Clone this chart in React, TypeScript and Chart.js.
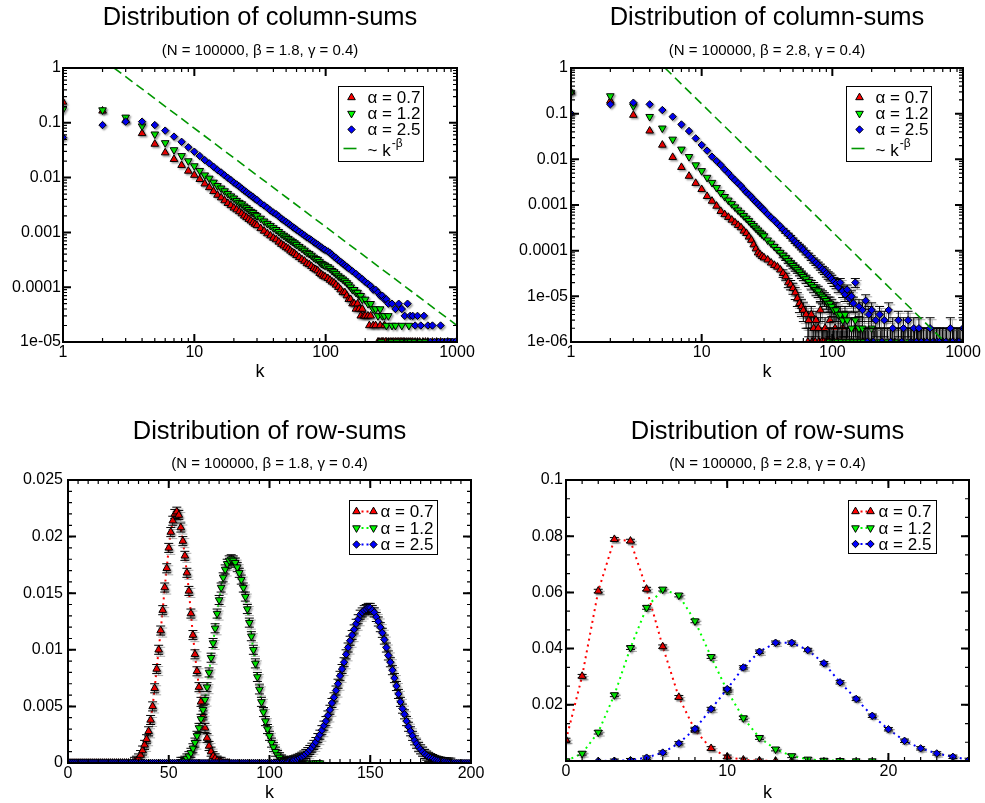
import React, { useEffect, useRef } from 'react';
import { Chart, registerables } from 'chart.js';

Chart.register(...registerables);

const FONT_FAMILY = '"Liberation Sans", Arial, Helvetica, sans-serif';
Chart.defaults.font.family = FONT_FAMILY;
Chart.defaults.color = '#000';

// ---------------- text ----------------
const SERIES_LABELS = ['α = 0.7', 'α = 1.2', 'α = 2.5'];
const FIT_LABEL = '~ k';
const FIT_SUP = '-β';
const TITLE_COLUMN = 'Distribution of column-sums';
const TITLE_ROW = 'Distribution of row-sums';
const SUB_18 = '(N = 100000, β = 1.8, γ = 0.4)';
const SUB_28 = '(N = 100000, β = 2.8, γ = 0.4)';
const X_LABEL = 'k';

// ---------------- ticks ----------------
const LOG_X_TICKS = [1, 10, 100, 1000];
const LOG_X_LABELS = ['1', '10', '100', '1000'];
const TL_Y_TICKS = [1e-5, 1e-4, 1e-3, 1e-2, 0.1, 1];
const TL_Y_LABELS = ['1e-05', '0.0001', '0.001', '0.01', '0.1', '1'];
const TR_Y_TICKS = [1e-6, 1e-5, 1e-4, 1e-3, 1e-2, 0.1, 1];
const TR_Y_LABELS = ['1e-06', '1e-05', '0.0001', '0.001', '0.01', '0.1', '1'];
const BL_X_TICKS = [0, 50, 100, 150, 200];
const BL_X_LABELS = ['0', '50', '100', '150', '200'];
const BL_Y_TICKS = [0, 0.005, 0.01, 0.015, 0.02, 0.025];
const BL_Y_LABELS = ['0', '0.005', '0.01', '0.015', '0.02', '0.025'];
const BR_X_TICKS = [0, 10, 20];
const BR_X_LABELS = ['0', '10', '20'];
const BR_Y_TICKS = [0, 0.02, 0.04, 0.06, 0.08, 0.1];
const BR_Y_LABELS = ['', '0.02', '0.04', '0.06', '0.08', '0.1'];

// ---------------- data: top-left (column sums, beta = 1.8) ----------------
const TL_K = [1,2,3,4,5,6,7,8,9,10,11,12,13,14,15,16,17,18,19,20,21,22,23,24,25,26,27,28,29,30,32,34,36,38,40,42,44,46,48,50,52,54,56,58,60,63,66,69,72,75,78,81,84,87,90,93,96,99];
const TL_RED = [0.24,0.165,0.11,0.064,0.041,0.0285,0.0216,0.0168,0.0132,0.0111,0.0093,0.0077,0.0066,0.0056,0.0048,0.0043,0.0038,0.0034,0.0031,0.0028,0.0026,0.0024,0.0022,0.0020,0.00187,0.00174,0.00163,0.00151,0.00142,0.00134,0.00118,0.00106,0.00095,0.00087,0.00079,0.00074,0.00067,0.00061,0.00057,0.00053,0.00050,0.00046,0.00043,0.00041,0.00038,0.00035,0.00032,0.00030,0.00027,0.00026,0.00024,0.00022,0.00021,0.00020,0.00018,0.00017,0.00016,0.000155];
const TL_GREEN = [0.176,0.171,0.126,0.087,0.062,0.043,0.032,0.025,0.0201,0.0163,0.0134,0.0111,0.0097,0.0082,0.0071,0.0064,0.0057,0.0051,0.0046,0.0042,0.0038,0.0035,0.0033,0.0030,0.0028,0.0026,0.0024,0.0023,0.0021,0.0020,0.0018,0.0016,0.00145,0.00133,0.00121,0.00112,0.00103,0.00094,0.00088,0.00082,0.00077,0.00072,0.00068,0.00064,0.00060,0.00055,0.00051,0.00047,0.00043,0.00041,0.00038,0.00035,0.00033,0.00032,0.00029,0.00027,0.00026,0.00025];
const TL_BLUE = [0.054,0.091,0.105,0.105,0.091,0.072,0.056,0.045,0.0357,0.0297,0.0248,0.0209,0.0182,0.0158,0.0138,0.0124,0.0110,0.0099,0.0090,0.0081,0.0075,0.0069,0.0063,0.0058,0.0054,0.0050,0.0047,0.0044,0.0041,0.0039,0.0034,0.0031,0.0028,0.0025,0.0023,0.00215,0.00196,0.00178,0.00166,0.00155,0.00145,0.00135,0.00126,0.00119,0.00112,0.00103,0.00095,0.00088,0.00081,0.00077,0.00072,0.00067,0.00063,0.00060,0.00056,0.00053,0.00050,0.00048];
const TL_RED_TAIL_K = [104,108,112,116,120,125,130,135,140,145,150,155,160,165,170,175,180,185,190,195,200,210,215,220,230,240,250,260,270,280,290,300,320,340,360,380,400,430,460,500,550,600,700];
const TL_RED_TAIL_P = [1.45e-4,1.35e-4,1.25e-4,1.2e-4,1.1e-4,1.0e-4,9e-5,8e-5,8e-5,7e-5,6e-5,6e-5,5e-5,5e-5,4e-5,5e-5,4e-5,3e-5,4e-5,3e-5,3e-5,3e-5,2e-5,3e-5,2e-5,2e-5,1e-5,2e-5,1e-5,2e-5,1e-5,1e-5,1e-5,1e-5,1e-5,1e-5,1e-5,1e-5,1e-5,1e-5,1e-5,1e-5,1e-5];
const TL_GREEN_TAIL_K = [104,108,112,116,120,125,130,135,140,145,150,155,160,165,170,175,180,185,190,200,210,220,230,240,250,260,270,280,290,300,320,340,360,380,400,430,460,500,550,600,700,800,900];
const TL_GREEN_TAIL_P = [2.35e-4,2.2e-4,2.0e-4,1.9e-4,1.75e-4,1.6e-4,1.5e-4,1.4e-4,1.3e-4,1.2e-4,1.1e-4,1.0e-4,9e-5,9e-5,8e-5,8e-5,7e-5,7e-5,6e-5,6e-5,5e-5,5e-5,4e-5,4e-5,3e-5,4e-5,3e-5,3e-5,2e-5,3e-5,2e-5,2e-5,1e-5,2e-5,1e-5,2e-5,1e-5,1e-5,1e-5,1e-5,1e-5,1e-5,1e-5];
const TL_BLUE_TAIL_K = [104,108,112,116,120,125,130,135,140,145,150,160,170,180,190,200,210,220,230,240,250,260,270,280,290,300,320,340,360,380,400,420,440,460,480,500,530,560,600,650,700,750,800,850,900,950,1000];
const TL_BLUE_TAIL_P = [4.5e-4,4.2e-4,3.9e-4,3.6e-4,3.4e-4,3.1e-4,2.9e-4,2.7e-4,2.5e-4,2.35e-4,2.2e-4,1.95e-4,1.75e-4,1.55e-4,1.4e-4,1.25e-4,1.15e-4,1.05e-4,9e-5,9e-5,8e-5,7e-5,7e-5,6e-5,6e-5,5e-5,5e-5,4e-5,5e-5,4e-5,3e-5,5e-5,3e-5,3e-5,2e-5,3e-5,2e-5,3e-5,2e-5,2e-5,1e-5,2e-5,1e-5,1e-5,1e-5,1e-5,1e-5];
// extra points sitting on the 1e-5 floor (one count)
const TL_FLOOR_P = 1e-5;
const TL_RED_FLOOR_K = [255,265,275,285,310,330,350,370,390,415,445,480,520,575,650,750,850];
const TL_GREEN_FLOOR_K = [265,310,350,390,415,445,480,520,575,650,750,850,950];
const TL_BLUE_FLOOR_K = [625,675,725,775,825,875,925,975];
const TL_FIT_K = [2.45, 1000];
const TL_FIT_P = [1, 2e-5];

// ---------------- data: top-right (column sums, beta = 2.8) ----------------
const TR_K = [1,2,3,4,5,6,7,8,9,10,11,12,13,14,15,16,17,18,19,20,21,22,23,24,25,26,27,28,29,30,32,34,36,38,40];
const TR_RED = [0.30,0.19,0.093,0.042,0.0206,0.0111,0.0067,0.0043,0.0030,0.0022,0.00155,0.00122,0.00095,0.00073,0.00062,0.00054,0.00047,0.00041,0.00036,0.00032,0.00027,0.00024,0.00020,0.00017,0.000135,0.000110,0.000090,0.000082,0.000075,0.000070,0.000063,0.000054,0.000048,0.000044,0.000038];
const TR_GREEN = [0.29,0.244,0.147,0.086,0.048,0.0274,0.0166,0.0114,0.0075,0.0056,0.0040,0.0031,0.0024,0.00186,0.00152,0.00127,0.00106,0.00090,0.00077,0.00067,0.00058,0.00051,0.00045,0.00039,0.00035,0.00031,0.00028,0.00025,0.00023,0.00021,0.00017,0.000145,0.000123,0.000105,0.000091];
const TR_BLUE = [0.10,0.16,0.174,0.16,0.12,0.086,0.058,0.0417,0.0288,0.0206,0.0155,0.0114,0.0092,0.0075,0.0060,0.0050,0.0041,0.0035,0.0030,0.0026,0.0022,0.0019,0.0017,0.0015,0.0013,0.00117,0.00105,0.00094,0.00085,0.00077,0.00063,0.00053,0.00046,0.00039,0.00034];
const TR_RED_TAIL_K = [42,44,46,48,50,52,54,56,58,60,63,66,69,72,75,78,81,84,88,92,96,100,105,110,115,120,125,130,140,150,160,170,180,200,220,250,280,320,360,400,450,500,560,630,700,800,900,1000];
const TR_RED_TAIL_P = [3.2e-5,2.7e-5,2.0e-5,1.8e-5,1.5e-5,1.2e-5,9e-6,7e-6,6e-6,5e-6,4e-6,3e-6,4e-6,2e-6,3e-6,2e-6,5e-6,1e-6,2e-6,1e-6,3e-6,1e-6,2e-6,1e-6,1e-6,2e-6,1e-6,1e-6,1e-6,2e-6,1e-6,1e-6,1e-6,1e-6,1e-6,1e-6,1e-6,1e-6,1e-6,1e-6,1e-6,1e-6,1e-6,1e-6,1e-6,1e-6,1e-6,1e-6];
const TR_RED_TAIL_E = [6e-6,5e-6,4.5e-6,4.2e-6,3.9e-6,3.5e-6,3e-6,2.6e-6,2.4e-6,2.2e-6,2e-6,1.7e-6,2e-6,1.4e-6,1.7e-6,1.4e-6,2.2e-6,1e-6,1.4e-6,1e-6,1.7e-6,1e-6,1.4e-6,1e-6,1e-6,1.4e-6,1e-6,1e-6,1e-6,1.4e-6,1e-6,1e-6,1e-6,1e-6,1e-6,1e-6,1e-6,1e-6,1e-6,1e-6,1e-6,1e-6,1e-6,1e-6,1e-6,1e-6,1e-6,1e-6];
const TR_GREEN_TAIL_K = [42,44,46,48,50,52,54,56,58,60,63,66,69,72,75,78,81,84,87,90,93,96,99,103,107,111,115,120,125,130,140,150,160,170,180,200,220,250,280,320,360,400,450,500,560,630,700,800,900,1000];
const TR_GREEN_TAIL_P = [7.9e-5,6.9e-5,6.0e-5,5.3e-5,4.7e-5,4.2e-5,3.8e-5,3.4e-5,3.0e-5,2.7e-5,2.4e-5,2.1e-5,1.8e-5,1.6e-5,1.4e-5,1.3e-5,1.1e-5,1.0e-5,9e-6,8e-6,7e-6,7e-6,6e-6,5e-6,5e-6,4e-6,4e-6,3e-6,4e-6,3e-6,2e-6,3e-6,2e-6,2e-6,1e-6,2e-6,1e-6,1e-6,1e-6,1e-6,1e-6,1e-6,1e-6,1e-6,1e-6,1e-6,1e-6,1e-6,1e-6,1e-6];
const TR_GREEN_TAIL_E = [9e-6,8e-6,8e-6,7e-6,7e-6,6.5e-6,6e-6,6e-6,5.5e-6,5e-6,5e-6,4.6e-6,4.2e-6,4e-6,3.7e-6,3.6e-6,3.3e-6,3.2e-6,3e-6,2.8e-6,2.6e-6,2.6e-6,2.4e-6,2.2e-6,2.2e-6,2e-6,2e-6,1.7e-6,2e-6,1.7e-6,1.4e-6,1.7e-6,1.4e-6,1.4e-6,1e-6,1.4e-6,1e-6,1e-6,1e-6,1e-6,1e-6,1e-6,1e-6,1e-6,1e-6,1e-6,1e-6,1e-6,1e-6,1e-6];
const TR_BLUE_TAIL_K = [42,44,46,48,50,52,54,56,58,60,63,66,69,72,75,78,81,84,87,90,93,96,99,103,107,111,115,120,125,130,135,140,145,150,160,170,180,190,200,215,230,250,270,290,320,350,380,420,460,500,560,630,700,800,900,1000];
const TR_BLUE_TAIL_P = [2.9e-4,2.55e-4,2.25e-4,2.0e-4,1.75e-4,1.55e-4,1.4e-4,1.27e-4,1.15e-4,1.04e-4,9.0e-5,7.9e-5,6.9e-5,6.1e-5,5.5e-5,4.9e-5,4.4e-5,3.9e-5,3.6e-5,3.2e-5,2.9e-5,2.7e-5,2.4e-5,2.1e-5,1.9e-5,1.6e-5,2.0e-5,1.3e-5,1.1e-5,1.4e-5,9e-6,1.0e-5,7e-6,2.0e-5,6e-6,5e-6,8e-6,4e-6,5e-6,3e-6,4e-6,3e-6,5e-6,2e-6,3e-6,2e-6,3e-6,2e-6,2e-6,1e-6,2e-6,1e-6,1e-6,2e-6,1e-6,2e-6];
const TR_BLUE_TAIL_E = [1.7e-5,1.6e-5,1.5e-5,1.4e-5,1.3e-5,1.2e-5,1.2e-5,1.1e-5,1.1e-5,1.0e-5,9.5e-6,8.9e-6,8.3e-6,7.8e-6,7.4e-6,7e-6,6.6e-6,6.2e-6,6e-6,5.7e-6,5.4e-6,5.2e-6,4.9e-6,4.6e-6,4.4e-6,4e-6,4.5e-6,3.6e-6,3.3e-6,3.7e-6,3e-6,3.2e-6,2.6e-6,4.5e-6,2.4e-6,2.2e-6,2.8e-6,2e-6,2.2e-6,1.7e-6,2e-6,1.7e-6,2.2e-6,1.4e-6,1.7e-6,1.4e-6,1.7e-6,1.4e-6,1.4e-6,1e-6,1.4e-6,1e-6,1e-6,1.4e-6,1e-6,1.4e-6];
// extra points sitting on the 1e-6 floor (one count), with their error
const TR_FLOOR_P = 1e-6;
const TR_FLOOR_E = 1e-6;
const TR_RED_FLOOR_K = [65,70,74,79,83,86,90,94,98,103,108,113,118,123,128,135,145,155,165,175,190,210,235,265,300,340,380,425,475,530,600,665,750,850,950];
const TR_GREEN_FLOOR_K = [95,102,110,118,128,135,145,155,165,175,190,210,235,265,300,340,380,425,475,530,600,665,750,850,950];
const TR_BLUE_FLOOR_K = [185,205,240,280,340,400,440,480,530,590,660,740,830,930];
const TR_FIT_K = [5.24, 728];
const TR_FIT_P = [1, 1e-6];

// ---------------- data: bottom-left (row sums, beta = 1.8), k = 0..kMax, zero outside run ----------------
const BL_RED_KMAX = 80;
const BL_RED_K0 = 33;
const BL_RED_P = [0.0001,0.0002,0.0004,0.0007,0.0011,0.0016,0.0021,0.0028,0.0038,0.0050,0.0066,0.0083,0.0100,0.0117,0.0135,0.0155,0.0172,0.0190,0.0204,0.0214,0.0220,0.0222,0.0219,0.0208,0.0196,0.0183,0.0168,0.0152,0.0132,0.0113,0.0096,0.0081,0.0067,0.0054,0.0042,0.0031,0.0022,0.0015,0.0010,0.0006,0.0004,0.0002,0.0001,0.0001];
const BL_GREEN_KMAX = 125;
const BL_GREEN_K0 = 56;
const BL_GREEN_P = [0.0001,0.0001,0.0002,0.0004,0.0006,0.0009,0.0013,0.0018,0.0024,0.0031,0.0039,0.0047,0.0056,0.0067,0.0080,0.0093,0.0106,0.0119,0.0132,0.0144,0.0155,0.0164,0.0171,0.0176,0.0179,0.0180,0.0179,0.0177,0.0173,0.0168,0.0162,0.0155,0.0147,0.0136,0.0124,0.0112,0.0100,0.0088,0.0076,0.0065,0.0054,0.0045,0.0037,0.0030,0.0024,0.0018,0.0014,0.0010,0.0007,0.0005,0.0003,0.0002,0.0001];
const BL_BLUE_KMAX = 200;
const BL_BLUE_K0 = 109;
const BL_BLUE_P = [0.0001,0.00015,0.0002,0.00024,0.0003,0.00037,0.00045,0.00055,0.00066,0.0008,0.00096,0.00115,0.00135,0.0016,0.00185,0.0022,0.0025,0.0029,0.0033,0.0037,0.0042,0.0047,0.0053,0.0058,0.0064,0.0070,0.0077,0.0083,0.0089,0.0096,0.0102,0.0108,0.0113,0.0118,0.0123,0.0127,0.0131,0.0133,0.0135,0.0136,0.0137,0.0137,0.0135,0.0133,0.0129,0.0125,0.0120,0.0115,0.0109,0.0102,0.0095,0.0089,0.0082,0.0075,0.0068,0.0061,0.0054,0.0048,0.0043,0.0037,0.0032,0.0028,0.0024,0.0020,0.0017,0.0014,0.0012,0.0010,0.0008,0.00066,0.00054,0.00043,0.00035,0.00027,0.00021,0.00016,0.00012,0.00009,0.00007,0.00005,0.00004,0.00003];
const BL_ERR = [0.0004, 0.0004, 0.0004];

// ---------------- data: bottom-right (row sums, beta = 2.8) ----------------
const BR_RED_K0 = 0;
const BR_RED_P = [0.0075,0.0302,0.0605,0.0789,0.0783,0.0612,0.0407,0.0227,0.0110,0.0045,0.0015,0.0004,0.0001,0,0];
const BR_GREEN_K0 = 0;
const BR_GREEN_P = [0,0.0027,0.0102,0.0235,0.0403,0.0546,0.0611,0.0590,0.0498,0.0371,0.0250,0.0153,0.0083,0.0042,0.0018,0.0006,0.0002,0.0001,0,0];
const BR_BLUE_K0 = 2;
const BR_BLUE_P = [0,0.0001,0.0003,0.0012,0.0030,0.0063,0.0114,0.0185,0.0256,0.0333,0.0389,0.0421,0.0421,0.0395,0.0348,0.0280,0.0221,0.0161,0.0113,0.0072,0.0045,0.0027,0.0015,0.0004];
const BR_ERR = [0.0006, 0.0006, 0.0006];

// ---------------- styles ----------------
const STYLES = [
  { color: '#ff0000', pointStyle: 'triangle', rotation: 0, radius: 4.4, glyph: 'up' },
  { color: '#00ff00', pointStyle: 'triangle', rotation: 180, radius: 4.4, glyph: 'down' },
  { color: '#0000ff', pointStyle: 'rectRot', rotation: 0, radius: 3.7, glyph: 'diamond' },
];
const FIT_COLOR = 'rgb(0,150,0)';

// ---------------- helpers ----------------
function pairs(ks: number[], ps: number[]) {
  return ks.map((k, i) => ({ x: k, y: ps[i] }));
}
function floorPairs(ks: number[], p: number) {
  return ks.map((k) => ({ x: k, y: p }));
}
function runPoints(kStart: number, k0: number, kMax: number, ps: number[]) {
  const out: { x: number; y: number }[] = [];
  for (let k = kStart; k <= kMax; k++) {
    const i = k - k0;
    out.push({ x: k, y: i >= 0 && i < ps.length ? ps[i] : 0 });
  }
  return out;
}
function logMinor(lo: number, hi: number) {
  const out: number[] = [];
  for (let d = lo; d < hi * 0.999; d *= 10) for (let m = 2; m <= 9; m++) out.push(d * m);
  return out;
}
function linMinor(lo: number, hi: number, step: number) {
  const out: number[] = [];
  const n = Math.round((hi - lo) / step);
  for (let i = 0; i <= n; i++) out.push(lo + i * step);
  return out;
}
function labelFor(ticks: number[], labels: string[]) {
  return (v: any) => {
    const val = Number(v);
    for (let i = 0; i < ticks.length; i++) {
      if (Math.abs(ticks[i] - val) <= Math.abs(ticks[i]) * 1e-6 + 1e-12) return labels[i];
    }
    return '';
  };
}

function markerPath(ctx: CanvasRenderingContext2D, glyph: string, x: number, y: number, r: number) {
  ctx.beginPath();
  if (glyph === 'up') {
    ctx.moveTo(x, y - r);
    ctx.lineTo(x + r * 0.866, y + r * 0.5);
    ctx.lineTo(x - r * 0.866, y + r * 0.5);
  } else if (glyph === 'down') {
    ctx.moveTo(x, y + r);
    ctx.lineTo(x + r * 0.866, y - r * 0.5);
    ctx.lineTo(x - r * 0.866, y - r * 0.5);
  } else {
    ctx.moveTo(x - r, y);
    ctx.lineTo(x, y - r);
    ctx.lineTo(x + r, y);
    ctx.lineTo(x, y + r);
  }
  ctx.closePath();
}
function drawMarker(ctx: CanvasRenderingContext2D, s: any, x: number, y: number) {
  markerPath(ctx, s.glyph, x, y, s.radius);
  ctx.fillStyle = s.color;
  ctx.fill();
  ctx.strokeStyle = '#000';
  ctx.lineWidth = 1;
  ctx.stroke();
}

function markerDataset(si: number, data: any[], errors: number[] | null, order: number) {
  const s = STYLES[si];
  return {
    label: SERIES_LABELS[si],
    data,
    errors,
    shadow: true,
    showLine: false,
    pointStyle: s.pointStyle,
    pointRotation: s.rotation,
    pointRadius: s.radius,
    pointHoverRadius: s.radius,
    pointBackgroundColor: s.color,
    pointBorderColor: '#000',
    pointBorderWidth: 1,
    order,
    clip: 0,
  };
}
function dottedDataset(si: number, data: any[], order: number) {
  return {
    data,
    showLine: true,
    pointRadius: 0,
    pointHoverRadius: 0,
    borderColor: STYLES[si].color,
    borderWidth: 2,
    borderDash: [2, 4],
    fill: false,
    order,
    clip: 0,
  };
}
function fitDataset(ks: number[], ps: number[]) {
  return {
    data: pairs(ks, ps),
    showLine: true,
    pointRadius: 0,
    pointHoverRadius: 0,
    borderColor: FIT_COLOR,
    borderWidth: 1.6,
    borderDash: [9, 5],
    fill: false,
    order: 0,
    clip: 0,
  };
}

// ---------------- plugins ----------------
const errorBarPlugin = {
  id: 'errorBars',
  beforeDatasetDraw(chart: any, args: any) {
    const ds: any = chart.data.datasets[args.index];
    const ctx: CanvasRenderingContext2D = chart.ctx;
    if (ds.errors) {
      const ys: any = chart.scales.y;
      const ca = chart.chartArea;
      const meta = args.meta;
      ctx.save();
      ctx.beginPath();
      ctx.rect(ca.left, ca.top, ca.right - ca.left, ca.bottom - ca.top);
      ctx.clip();
      const cap = 4.5;
      const passes = [
        { dx: 2, dy: 2, color: 'rgba(110,110,110,0.55)' },
        { dx: 0, dy: 0, color: '#000' },
      ];
      for (const p of passes) {
        ctx.strokeStyle = p.color;
        ctx.lineWidth = 1;
        ctx.beginPath();
        ds.data.forEach((pt: any, i: number) => {
          const e = ds.errors[i];
          if (!e) return;
          const el = meta.data[i];
          if (!el) return;
          const x = el.x + p.dx;
          const loVal = pt.y - e;
          const hasLo = loVal > ys.min;
          const yHi = ys.getPixelForValue(pt.y + e) + p.dy;
          const yLo = (hasLo ? ys.getPixelForValue(loVal) : ca.bottom + 5) + p.dy;
          ctx.moveTo(x, yLo);
          ctx.lineTo(x, yHi);
          ctx.moveTo(x - cap, yHi);
          ctx.lineTo(x + cap, yHi);
          if (hasLo) {
            ctx.moveTo(x - cap, yLo);
            ctx.lineTo(x + cap, yLo);
          }
        });
        ctx.stroke();
      }
      ctx.restore();
    }
    if (ds.shadow) {
      ctx.save();
      ctx.shadowColor = 'rgba(0,0,0,0.35)';
      ctx.shadowBlur = 2;
      ctx.shadowOffsetX = 1.5;
      ctx.shadowOffsetY = 1.5;
    }
  },
  afterDatasetDraw(chart: any, args: any) {
    const ds: any = chart.data.datasets[args.index];
    if (ds.shadow) chart.ctx.restore();
  },
};

function framePlugin(t: any) {
  return {
    id: 'frame',
    afterDatasetsDraw(chart: any) {
      const ctx: CanvasRenderingContext2D = chart.ctx;
      const ca = chart.chartArea;
      const xs = chart.scales.x;
      const ys = chart.scales.y;
      ctx.save();
      ctx.strokeStyle = '#000';
      const xt = (vals: number[], len: number, w: number) => {
        ctx.lineWidth = w;
        ctx.beginPath();
        vals.forEach((v) => {
          const px = xs.getPixelForValue(v);
          if (px < ca.left - 0.5 || px > ca.right + 0.5) return;
          ctx.moveTo(px, ca.bottom);
          ctx.lineTo(px, ca.bottom - len);
          ctx.moveTo(px, ca.top);
          ctx.lineTo(px, ca.top + len);
        });
        ctx.stroke();
      };
      const yt = (vals: number[], len: number, w: number) => {
        ctx.lineWidth = w;
        ctx.beginPath();
        vals.forEach((v) => {
          const py = ys.getPixelForValue(v);
          if (py < ca.top - 0.5 || py > ca.bottom + 0.5) return;
          ctx.moveTo(ca.left, py);
          ctx.lineTo(ca.left + len, py);
          ctx.moveTo(ca.right, py);
          ctx.lineTo(ca.right - len, py);
        });
        ctx.stroke();
      };
      xt(t.xMinor, 4, 1.2);
      xt(t.xMajor, 8, 2);
      yt(t.yMinor, 4, 1.2);
      yt(t.yMajor, 8, 2);
      ctx.lineWidth = 2;
      ctx.strokeRect(ca.left, ca.top, ca.right - ca.left, ca.bottom - ca.top);
      ctx.restore();
    },
  };
}

function legendPlugin(L: any) {
  return {
    id: 'boxLegend',
    afterDraw(chart: any) {
      const ctx: CanvasRenderingContext2D = chart.ctx;
      const ca = chart.chartArea;
      const x0 = Math.round(ca.right - L.right - L.width) + 0.5;
      const y0 = Math.round(ca.top + L.top) + 0.5;
      ctx.save();
      ctx.fillStyle = '#fff';
      ctx.fillRect(x0, y0, L.width, L.height);
      ctx.strokeStyle = '#000';
      ctx.lineWidth = 1;
      ctx.strokeRect(x0, y0, L.width, L.height);
      ctx.textBaseline = 'middle';
      ctx.textAlign = 'left';
      L.items.forEach((it: any, i: number) => {
        const cy = y0 + L.rows[i];
        if (it.kind === 'marker') {
          drawMarker(ctx, STYLES[it.series], x0 + L.markerX[0], cy);
        } else if (it.kind === 'markerLine') {
          const s = STYLES[it.series];
          ctx.save();
          ctx.strokeStyle = s.color;
          ctx.lineWidth = 2;
          ctx.setLineDash([2, 3]);
          ctx.beginPath();
          ctx.moveTo(x0 + L.markerX[0], cy);
          ctx.lineTo(x0 + L.markerX[1], cy);
          ctx.stroke();
          ctx.restore();
          drawMarker(ctx, s, x0 + L.markerX[0], cy);
          drawMarker(ctx, s, x0 + L.markerX[1], cy);
        } else if (it.kind === 'fit') {
          ctx.save();
          ctx.strokeStyle = FIT_COLOR;
          ctx.lineWidth = 1.6;
          ctx.beginPath();
          ctx.moveTo(x0 + L.lineX[0], cy - 2);
          ctx.lineTo(x0 + L.lineX[1], cy - 2);
          ctx.stroke();
          ctx.restore();
        }
        ctx.fillStyle = '#000';
        ctx.font = '17px ' + FONT_FAMILY;
        ctx.fillText(it.text, x0 + L.textX, cy + 1);
        if (it.sup) {
          const w = ctx.measureText(it.text).width;
          ctx.font = '12px ' + FONT_FAMILY;
          ctx.fillText(it.sup, x0 + L.textX + w + 1, cy - 7);
        }
      });
      ctx.restore();
    },
  };
}

// ---------------- chart config builder ----------------
function buildConfig(p: any) {
  return {
    type: 'scatter',
    data: { datasets: p.datasets },
    options: {
      responsive: false,
      maintainAspectRatio: false,
      animation: false,
      events: [],
      layout: { padding: { left: 0, right: p.padRight, top: 0, bottom: 0 } },
      plugins: {
        legend: { display: false },
        tooltip: { enabled: false },
        title: {
          display: true,
          text: p.title,
          fullSize: false,
          color: '#000',
          font: { size: 25.5, weight: 'normal', lineHeight: 1.2 },
          padding: { top: p.titlePad[0], bottom: p.titlePad[1] },
        },
        subtitle: {
          display: true,
          text: p.subtitle,
          fullSize: false,
          color: '#000',
          font: { size: 15, weight: 'normal', lineHeight: 1.2 },
          padding: { top: 0, bottom: p.subPad },
        },
      },
      scales: {
        x: {
          type: p.xType,
          min: p.xMin,
          max: p.xMax,
          afterBuildTicks: (s: any) => {
            s.ticks = p.xTicks.map((v: number) => ({ value: v }));
          },
          afterFit: (s: any) => {
            s.height = p.xHeight;
          },
          grid: { display: false, drawTicks: false },
          border: { display: false },
          ticks: {
            callback: labelFor(p.xTicks, p.xLabels),
            autoSkip: false,
            maxRotation: 0,
            padding: 1,
            color: '#000',
            font: { size: 16 },
          },
          title: {
            display: true,
            text: X_LABEL,
            color: '#000',
            font: { size: 18, lineHeight: 1 },
            padding: { top: 0, bottom: p.xTitlePad },
          },
        },
        y: {
          type: p.yType,
          min: p.yMin,
          max: p.yMax,
          afterBuildTicks: (s: any) => {
            s.ticks = p.yTicks.map((v: number) => ({ value: v }));
          },
          afterFit: (s: any) => {
            s.width = p.yWidth;
          },
          grid: { display: false, drawTicks: false },
          border: { display: false },
          ticks: {
            callback: labelFor(p.yTicks, p.yLabels),
            autoSkip: false,
            padding: p.yLabelPad,
            color: '#000',
            font: { size: 16 },
          },
        },
      },
    },
    plugins: [errorBarPlugin, framePlugin(p.frame), legendPlugin(p.legend)],
  };
}

const TOP_LEGEND_ITEMS = [
  { kind: 'marker', series: 0, text: SERIES_LABELS[0] },
  { kind: 'marker', series: 1, text: SERIES_LABELS[1] },
  { kind: 'marker', series: 2, text: SERIES_LABELS[2] },
  { kind: 'fit', text: FIT_LABEL, sup: FIT_SUP },
];
const BOTTOM_LEGEND_ITEMS = [
  { kind: 'markerLine', series: 0, text: SERIES_LABELS[0] },
  { kind: 'markerLine', series: 1, text: SERIES_LABELS[1] },
  { kind: 'markerLine', series: 2, text: SERIES_LABELS[2] },
];

const TOP_TITLE_PAD = [2.7, 8.7];
const TOP_SUB_PAD = 8;
const BOTTOM_TITLE_PAD = [16.7, 7.7];
const BOTTOM_SUB_PAD = 7;

function topLeftConfig() {
  return buildConfig({
    title: TITLE_COLUMN,
    subtitle: SUB_18,
    titlePad: TOP_TITLE_PAD,
    subPad: TOP_SUB_PAD,
    padRight: 33,
    yWidth: 63,
    yLabelPad: 2,
    xHeight: 53,
    xTitlePad: 14,
    xType: 'logarithmic', xMin: 1, xMax: 1000, xTicks: LOG_X_TICKS, xLabels: LOG_X_LABELS,
    yType: 'logarithmic', yMin: 1e-5, yMax: 1, yTicks: TL_Y_TICKS, yLabels: TL_Y_LABELS,
    frame: { xMajor: LOG_X_TICKS, xMinor: logMinor(1, 1000), yMajor: TL_Y_TICKS, yMinor: logMinor(1e-5, 1) },
    legend: { right: 34, top: 18, width: 85, height: 75, rows: [11, 27, 43, 64], markerX: [13], lineX: [5, 18], textX: 29, items: TOP_LEGEND_ITEMS },
    datasets: [
      markerDataset(0, [...pairs(TL_K, TL_RED), ...pairs(TL_RED_TAIL_K, TL_RED_TAIL_P), ...floorPairs(TL_RED_FLOOR_K, TL_FLOOR_P)], null, 3),
      markerDataset(1, [...pairs(TL_K, TL_GREEN), ...pairs(TL_GREEN_TAIL_K, TL_GREEN_TAIL_P), ...floorPairs(TL_GREEN_FLOOR_K, TL_FLOOR_P)], null, 2),
      markerDataset(2, [...pairs(TL_K, TL_BLUE), ...pairs(TL_BLUE_TAIL_K, TL_BLUE_TAIL_P), ...floorPairs(TL_BLUE_FLOOR_K, TL_FLOOR_P)], null, 1),
      fitDataset(TL_FIT_K, TL_FIT_P),
    ],
  });
}

function topRightConfig() {
  const zeros = TR_K.map(() => 0);
  const fe = (ks: number[]) => ks.map(() => TR_FLOOR_E);
  return buildConfig({
    title: TITLE_COLUMN,
    subtitle: SUB_28,
    titlePad: TOP_TITLE_PAD,
    subPad: TOP_SUB_PAD,
    padRight: 22,
    yWidth: 81,
    yLabelPad: 3,
    xHeight: 53,
    xTitlePad: 14,
    xType: 'logarithmic', xMin: 1, xMax: 1000, xTicks: LOG_X_TICKS, xLabels: LOG_X_LABELS,
    yType: 'logarithmic', yMin: 1e-6, yMax: 1, yTicks: TR_Y_TICKS, yLabels: TR_Y_LABELS,
    frame: { xMajor: LOG_X_TICKS, xMinor: logMinor(1, 1000), yMajor: TR_Y_TICKS, yMinor: logMinor(1e-6, 1) },
    legend: { right: 32, top: 18, width: 85, height: 75, rows: [11, 27, 43, 64], markerX: [13], lineX: [5, 18], textX: 29, items: TOP_LEGEND_ITEMS },
    datasets: [
      markerDataset(0, [...pairs(TR_K, TR_RED), ...pairs(TR_RED_TAIL_K, TR_RED_TAIL_P), ...floorPairs(TR_RED_FLOOR_K, TR_FLOOR_P)], [...zeros, ...TR_RED_TAIL_E, ...fe(TR_RED_FLOOR_K)], 3),
      markerDataset(1, [...pairs(TR_K, TR_GREEN), ...pairs(TR_GREEN_TAIL_K, TR_GREEN_TAIL_P), ...floorPairs(TR_GREEN_FLOOR_K, TR_FLOOR_P)], [...zeros, ...TR_GREEN_TAIL_E, ...fe(TR_GREEN_FLOOR_K)], 2),
      markerDataset(2, [...pairs(TR_K, TR_BLUE), ...pairs(TR_BLUE_TAIL_K, TR_BLUE_TAIL_P), ...floorPairs(TR_BLUE_FLOOR_K, TR_FLOOR_P)], [...zeros, ...TR_BLUE_TAIL_E, ...fe(TR_BLUE_FLOOR_K)], 1),
      fitDataset(TR_FIT_K, TR_FIT_P),
    ],
  });
}

function bottomLeftConfig() {
  const red = runPoints(0, BL_RED_K0, BL_RED_KMAX, BL_RED_P);
  const green = runPoints(0, BL_GREEN_K0, BL_GREEN_KMAX, BL_GREEN_P);
  const blue = runPoints(0, BL_BLUE_K0, BL_BLUE_KMAX, BL_BLUE_P);
  const errs = (pts: any[], e: number) => pts.map((q) => (q.y > 0 ? e : 0));
  return buildConfig({
    title: TITLE_ROW,
    subtitle: SUB_18,
    titlePad: BOTTOM_TITLE_PAD,
    subPad: BOTTOM_SUB_PAD,
    padRight: 19,
    yWidth: 68,
    yLabelPad: 5,
    xHeight: 40,
    xTitlePad: 1,
    xType: 'linear', xMin: 0, xMax: 200, xTicks: BL_X_TICKS, xLabels: BL_X_LABELS,
    yType: 'linear', yMin: 0, yMax: 0.025, yTicks: BL_Y_TICKS, yLabels: BL_Y_LABELS,
    frame: { xMajor: BL_X_TICKS, xMinor: linMinor(0, 200, 5), yMajor: BL_Y_TICKS, yMinor: linMinor(0, 0.025, 0.001) },
    legend: { right: 34, top: 20, width: 88, height: 54, rows: [11, 27.5, 44], markerX: [7, 24], textX: 31, items: BOTTOM_LEGEND_ITEMS },
    datasets: [
      dottedDataset(0, red, 6),
      markerDataset(0, red, errs(red, BL_ERR[0]), 5),
      dottedDataset(1, green, 4),
      markerDataset(1, green, errs(green, BL_ERR[1]), 3),
      dottedDataset(2, blue, 2),
      markerDataset(2, blue, errs(blue, BL_ERR[2]), 1),
    ],
  });
}

function bottomRightConfig() {
  const red = runPoints(0, BR_RED_K0, BR_RED_K0 + BR_RED_P.length - 1, BR_RED_P);
  const green = runPoints(0, BR_GREEN_K0, BR_GREEN_K0 + BR_GREEN_P.length - 1, BR_GREEN_P);
  const blue = runPoints(BR_BLUE_K0, BR_BLUE_K0, BR_BLUE_K0 + BR_BLUE_P.length - 1, BR_BLUE_P);
  const errs = (pts: any[], e: number) => pts.map((q) => (q.y > 0 ? e : 0));
  return buildConfig({
    title: TITLE_ROW,
    subtitle: SUB_28,
    titlePad: BOTTOM_TITLE_PAD,
    subPad: BOTTOM_SUB_PAD,
    padRight: 16,
    yWidth: 76,
    yLabelPad: 3,
    xHeight: 42,
    xTitlePad: 1,
    xType: 'linear', xMin: 0, xMax: 25, xTicks: BR_X_TICKS, xLabels: BR_X_LABELS,
    yType: 'linear', yMin: 0, yMax: 0.1, yTicks: BR_Y_TICKS, yLabels: BR_Y_LABELS,
    frame: { xMajor: BR_X_TICKS, xMinor: linMinor(0, 25, 1), yMajor: BR_Y_TICKS, yMinor: linMinor(0, 0.1, 0.02 / 3) },
    legend: { right: 33, top: 20, width: 88, height: 53, rows: [11, 27.5, 43.5], markerX: [7, 22], textX: 30, items: BOTTOM_LEGEND_ITEMS },
    datasets: [
      dottedDataset(0, red, 6),
      markerDataset(0, red, errs(red, BR_ERR[0]), 5),
      dottedDataset(1, green, 4),
      markerDataset(1, green, errs(green, BR_ERR[1]), 3),
      dottedDataset(2, blue, 2),
      markerDataset(2, blue, errs(blue, BR_ERR[2]), 1),
    ],
  });
}

// ---------------- components ----------------
function Panel(props: { make: () => any; left: number; top: number; width: number; height: number }) {
  const ref = useRef<HTMLCanvasElement | null>(null);
  useEffect(() => {
    if (!ref.current) return;
    const chart = new Chart(ref.current, props.make());
    return () => chart.destroy();
  }, []);
  return (
    <canvas
      ref={ref}
      width={props.width}
      height={props.height}
      style={{ position: 'absolute', left: props.left, top: props.top, width: props.width, height: props.height }}
    />
  );
}

export default function App() {
  return (
    <div style={{ position: 'absolute', left: 0, top: 0, width: 985, height: 803, overflow: 'hidden', background: '#fff' }}>
      <Panel make={topLeftConfig} left={0} top={0} width={490} height={395} />
      <Panel make={topRightConfig} left={490} top={0} width={495} height={395} />
      <Panel make={bottomLeftConfig} left={0} top={400} width={490} height={403} />
      <Panel make={bottomRightConfig} left={490} top={400} width={495} height={403} />
    </div>
  );
}
